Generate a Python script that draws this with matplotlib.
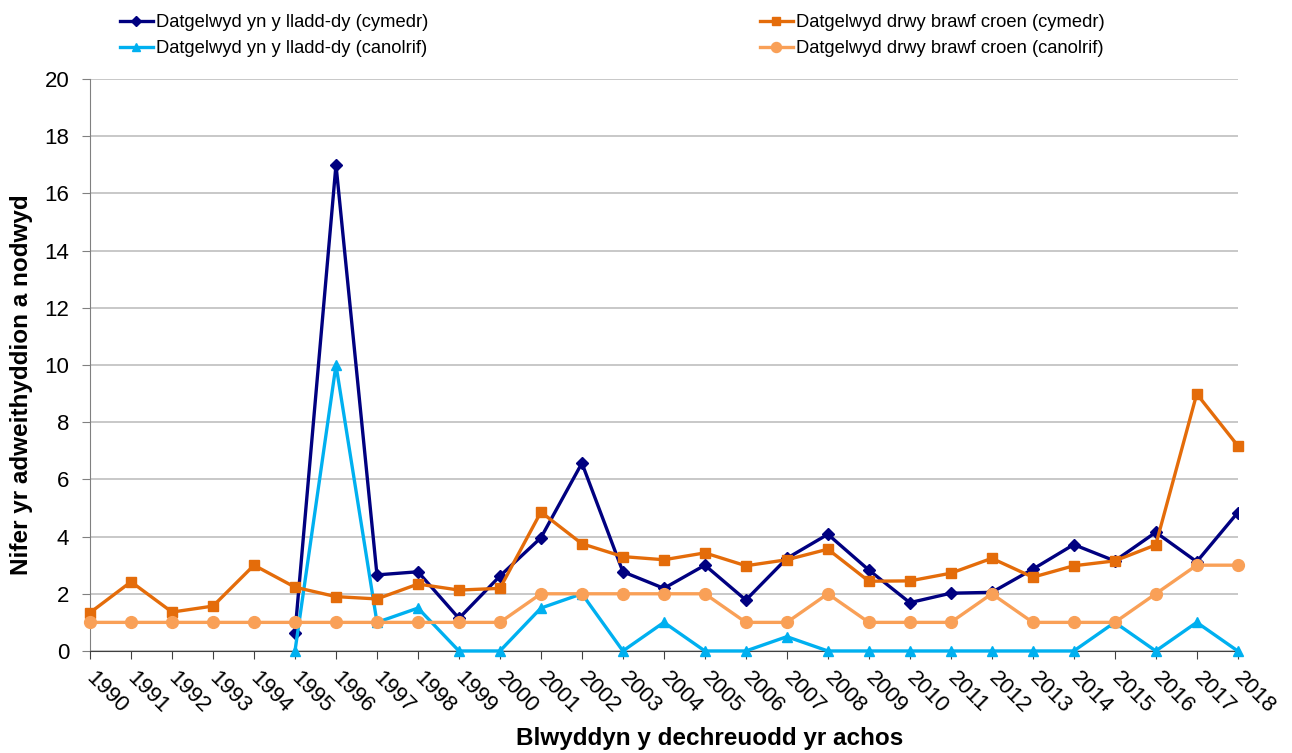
import matplotlib
matplotlib.use("Agg")
import matplotlib.pyplot as plt
import matplotlib.transforms as mtransforms
import numpy as np

years = list(range(1990, 2019))

# Slaughterhouse detected (mean) - starts 1995
slaughter_mean_years = list(range(1995, 2019))
slaughter_mean = [0.64, 17.0, 2.66, 2.77, 1.14, 2.62, 3.96, 6.57, 2.77, 2.19, 3.0, 1.78,
                  3.24, 4.08, 2.83, 1.69, 2.02, 2.05, 2.86, 3.72, 3.15, 4.15, 3.12, 4.84]
# Slaughterhouse detected (median)
slaughter_median = [0, 10, 1, 1.5, 0, 0, 1.5, 2, 0, 1, 0, 0, 0.5, 0, 0, 0, 0, 0, 0, 0,
                    1, 0, 1, 0]
# Skin test detected (mean) 1990-2018
skin_mean = [1.34, 2.42, 1.36, 1.57, 3.0, 2.23, 1.9, 1.82, 2.34, 2.13, 2.19, 4.86, 3.75,
             3.3, 3.19, 3.43, 2.98, 3.19, 3.56, 2.44, 2.45, 2.72, 3.24, 2.58, 2.98, 3.15,
             3.71, 8.99, 7.18]
# Skin test detected (median)
skin_median = [1, 1, 1, 1, 1, 1, 1, 1, 1, 1, 1, 2, 2, 2, 2, 2, 1, 1, 2, 1, 1, 1, 2, 1, 1,
               1, 2, 3, 3]

labels = ["Datgelwyd yn y lladd-dy (cymedr)",
          "Datgelwyd yn y lladd-dy (canolrif)",
          "Datgelwyd drwy brawf croen (cymedr)",
          "Datgelwyd drwy brawf croen (canolrif)"]

c_navy = "#000080"
c_lblue = "#00B0F0"
c_orange = "#E46C0A"
c_lorange = "#F9A057"

plt.rcParams['font.family'] = ['Liberation Sans', 'DejaVu Sans']

fig = plt.figure(figsize=(12.92, 7.53), dpi=100)
ax = fig.add_axes([0.0697, 0.1355, 0.8883, 0.7595])

lw = 2.4
h1, = ax.plot(slaughter_mean_years, slaughter_mean, color=c_navy, lw=lw, marker='D',
              ms=6.5, zorder=3)
h2, = ax.plot(slaughter_mean_years, slaughter_median, color=c_lblue, lw=lw, marker='^',
              ms=7.5, zorder=4, clip_on=False)
h3, = ax.plot(years, skin_mean, color=c_orange, lw=lw, marker='s', ms=7, zorder=5,
              clip_on=False)
h4, = ax.plot(years, skin_median, color=c_lorange, lw=lw, marker='o', ms=8.5, zorder=6,
              clip_on=False)

ax.set_xlim(1990, 2018)
ax.set_ylim(0, 20)
ax.set_yticks(np.arange(0, 21, 2))
ax.set_xticks(years)
ax.tick_params(axis='y', labelsize=16, direction='out', length=6, color='#808080', pad=9)
ax.tick_params(axis='x', direction='out', length=6, color='#404040', pad=6)
ax.set_xticklabels([str(y) for y in years], rotation=-45, ha='left', va='top',
                   rotation_mode='anchor', fontsize=16)
offset = mtransforms.ScaledTranslation(5 / 72, 0, fig.dpi_scale_trans)
for lab in ax.get_xticklabels():
    lab.set_transform(lab.get_transform() + offset)
ax.grid(axis='y', color='#BFBFBF', lw=1.2)
ax.set_axisbelow(True)
for s in ['top', 'right']:
    ax.spines[s].set_visible(False)
ax.spines['left'].set_color('#808080')
ax.spines['bottom'].set_color('#404040')

fig.text(22 / 1292, 1 - 385 / 753, "Nifer yr adweithyddion a nodwyd", fontsize=17.5,
         fontweight='bold', rotation=90, ha='center', va='center')
fig.text(710 / 1292, 1 - 738 / 753, "Blwyddyn y dechreuodd yr achos", fontsize=17.5,
         fontweight='bold', ha='center', va='center')

common = dict(frameon=False, fontsize=13.2, handlelength=1.8, handletextpad=0.15,
              labelspacing=0.5, markerscale=0.85, borderpad=0.4)
leg1 = fig.legend([h1, h2], labels[:2], loc='upper left', bbox_to_anchor=(0.08, 1.003),
                  **common)
leg2 = fig.legend([h3, h4], labels[2:], loc='upper left', bbox_to_anchor=(0.5753, 1.003),
                  **common)

fig.savefig("out.png", dpi=100)
